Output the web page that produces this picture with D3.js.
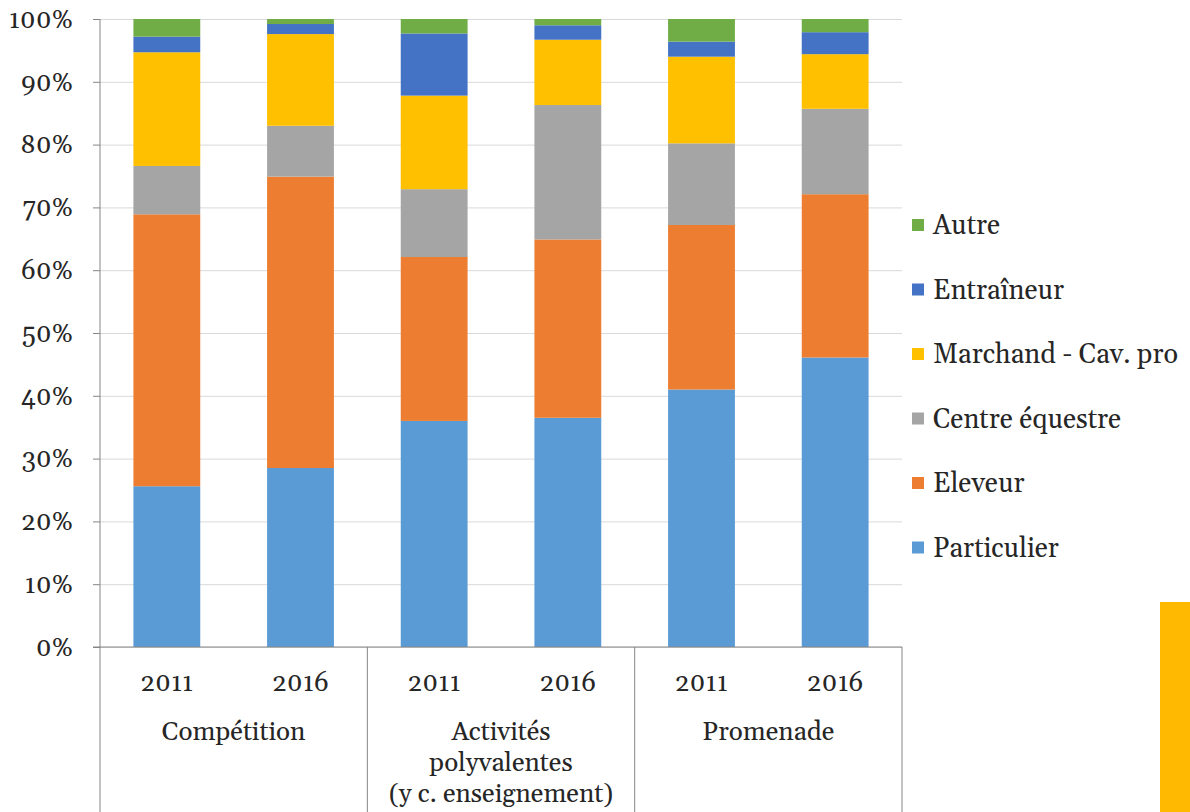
<!DOCTYPE html>
<html>
<head>
<meta charset="utf-8">
<script src="https://cdn.jsdelivr.net/npm/d3@7"></script>
<style>
  body { margin:0; background:#fff; }
  .grid line { stroke:#d9d9d9; }
  .grid .domain { display:none; }
</style>
</head>
<body>
<div id="canvas"></div>
<script>
// data
var groups = ['Compétition', 'Activités polyvalentes (y c. enseignement)', 'Promenade'];
var groupLines = [['Compétition'], ['Activités', 'polyvalentes', '(y c. enseignement)'], ['Promenade']];
var years = ['2011', '2016'];
var seriesNames = ['Particulier', 'Eleveur', 'Centre équestre', 'Marchand - Cav. pro', 'Entraîneur', 'Autre'];
var colors = ['#5B9BD5', '#ED7D31', '#A5A5A5', '#FFC000', '#4472C4', '#70AD47'];
// one value per bar, order: Compétition 2011, 2016, Activités 2011, 2016, Promenade 2011, 2016
var particulier = [25.6, 28.5, 36.0, 36.5, 41.0, 46.1];
var eleveur     = [43.3, 46.4, 26.1, 28.4, 26.2, 26.0];
var centre      = [7.7, 8.1, 10.8, 21.4, 13.0, 13.6];
var marchand    = [18.1, 14.6, 14.9, 10.4, 13.8, 8.7];
var entraineur  = [2.5, 1.6, 9.9, 2.3, 2.4, 3.5];
var autre       = [2.8, 0.8, 2.3, 1.0, 3.6, 2.1];
var yTicks = [0, 10, 20, 30, 40, 50, 60, 70, 80, 90, 100];

var values = [particulier, eleveur, centre, marchand, entraineur, autre];
var rows = [];
groups.forEach(function(g, gi){
  years.forEach(function(y, yi){
    var i = gi * 2 + yi;
    var r = {key: gi + '-' + y, group: gi, year: y};
    seriesNames.forEach(function(s, si){ r[s] = values[si][i]; });
    rows.push(r);
  });
});

var W = 1190, H = 812;
var m = {t:19, l:100, r:288, b:165};
var w = W - m.l - m.r, h = H - m.t - m.b;
var font = '"Gelasio", "DejaVu Serif", serif';
var fs = '26px';

function styleText(sel, size){
  sel.style('font-family', font)
     .style('font-size', size || fs)
     .style('fill', '#262626');
}

var svg = d3.select('#canvas').append('svg')
    .attr('width', W)
    .attr('height', H);
var plot = svg.append('g')
    .attr('transform', 'translate(' + m.l + ',' + m.t + ')');

var scaleX = d3.scaleBand()
    .domain(rows.map(function(d){ return d.key; }))
    .range([0, w])
    .paddingInner(0.5)
    .paddingOuter(0.25);
var scaleY = d3.scaleLinear()
    .domain([0, 100])
    .range([h, 0]);
var color = d3.scaleOrdinal().domain(seriesNames).range(colors);

// gridlines
plot.append('g').attr('class', 'grid')
    .call(d3.axisLeft(scaleY).tickValues(yTicks).tickSize(-w).tickFormat(''));

// stacked bars
var stacked = d3.stack().keys(seriesNames)(rows);
plot.selectAll('.series')
    .data(stacked)
    .enter()
    .append('g')
    .attr('class', 'series')
    .attr('fill', function(d){ return color(d.key); })
    .selectAll('rect')
    .data(function(d){ return d; })
    .enter()
    .append('rect')
    .attr('x', function(d){ return scaleX(d.data.key); })
    .attr('width', scaleX.bandwidth())
    .attr('y', function(d){ return scaleY(d[1]); })
    .attr('height', function(d){ return scaleY(d[0]) - scaleY(d[1]); });

// y axis
var axisY = d3.axisLeft(scaleY)
    .tickValues(yTicks)
    .tickSize(7)
    .tickPadding(20)
    .tickFormat(function(d){ return d + '%'; });
var gy = plot.append('g').attr('class', 'axis axis-y').call(axisY);
gy.select('.domain').attr('stroke', '#868686').attr('d', 'M0,0V' + h);
gy.selectAll('.tick line').attr('stroke', '#868686');
styleText(gy.selectAll('text'), '26px');

// baseline
plot.append('line')
    .attr('x1', -7).attr('x2', w)
    .attr('y1', h).attr('y2', h)
    .attr('stroke', '#868686');

// group separators below the axis
var groupW = w / groups.length;
d3.range(groups.length + 1).forEach(function(i){
  plot.append('line')
      .attr('x1', i * groupW).attr('x2', i * groupW)
      .attr('y1', h).attr('y2', H - m.t)
      .attr('stroke', '#868686');
});

// year labels
var yearText = plot.selectAll('.year')
    .data(rows)
    .enter()
    .append('text')
    .attr('class', 'year')
    .attr('x', function(d){ return scaleX(d.key) + scaleX.bandwidth() / 2; })
    .attr('y', h + 44)
    .attr('text-anchor', 'middle')
    .text(function(d){ return d.year; });
styleText(yearText);

// group labels
groupLines.forEach(function(lines, gi){
  var t = plot.append('text')
      .attr('x', (gi + 0.5) * groupW)
      .attr('y', h + 93)
      .attr('text-anchor', 'middle');
  styleText(t);
  lines.forEach(function(l, li){
    t.append('tspan')
        .attr('x', (gi + 0.5) * groupW)
        .attr('dy', li === 0 ? 0 : 31)
        .text(l);
  });
});

// legend
var legend = svg.append('g').attr('transform', 'translate(912,225)');
var items = legend.selectAll('.item')
    .data(seriesNames.slice().reverse())
    .enter()
    .append('g')
    .attr('class', 'item')
    .attr('transform', function(d, i){ return 'translate(0,' + (i * 64.5) + ')'; });
items.append('rect')
    .attr('x', 0).attr('y', -6)
    .attr('width', 12).attr('height', 12)
    .attr('fill', function(d){ return color(d); });
styleText(items.append('text')
    .attr('x', 21)
    .attr('dy', '0.35em')
    .text(function(d){ return d; }), '27px');

// decorative yellow band at bottom right
svg.append('rect')
    .attr('x', 1160).attr('y', 602)
    .attr('width', 30).attr('height', 210)
    .attr('fill', '#FFB900');
</script>
</body>
</html>
